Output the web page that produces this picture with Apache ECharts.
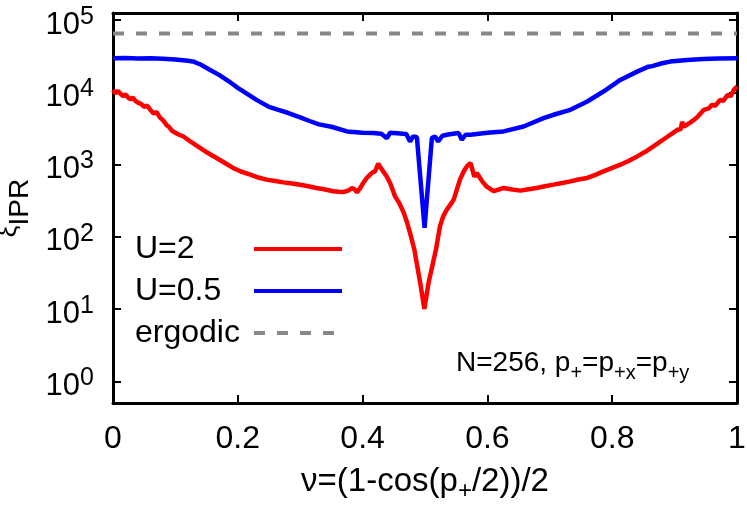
<!DOCTYPE html>
<html>
<head>
<meta charset="utf-8">
<script src="https://cdn.jsdelivr.net/npm/echarts@6/dist/echarts.min.js"></script>
<style>
  html, body { margin: 0; padding: 0; background: #fff; }
  #chart { width: 747px; height: 507px; }
</style>
</head>
<body>
<div id="chart"></div>
<script>
// nu = (1 - cos(p+/2)) / 2 ; xi = IPR length
const nuU2 = [0, 0.004, 0.008, 0.012, 0.016, 0.02, 0.024, 0.028, 0.032, 0.036, 0.04, 0.045, 0.05, 0.055, 0.06, 0.065, 0.07, 0.075, 0.08, 0.083, 0.086, 0.09, 0.095, 0.105, 0.113, 0.125, 0.14, 0.15, 0.166, 0.18, 0.193, 0.205, 0.22, 0.233, 0.246, 0.26, 0.273, 0.287, 0.3, 0.313, 0.326, 0.34, 0.353, 0.362, 0.37, 0.378, 0.383, 0.387, 0.391, 0.396, 0.401, 0.406, 0.412, 0.416, 0.42, 0.425, 0.429, 0.433, 0.438, 0.444, 0.448, 0.452, 0.459, 0.466, 0.471, 0.476, 0.483, 0.4923, 0.499, 0.5057, 0.5175, 0.524, 0.529, 0.535, 0.541, 0.546, 0.551, 0.556, 0.562, 0.567, 0.573, 0.579, 0.583, 0.586, 0.592, 0.599, 0.61, 0.618, 0.626, 0.64, 0.653, 0.666, 0.679, 0.692, 0.706, 0.72, 0.733, 0.746, 0.76, 0.773, 0.786, 0.8, 0.813, 0.826, 0.84, 0.853, 0.866, 0.88, 0.893, 0.905, 0.91, 0.912, 0.915, 0.925, 0.935, 0.947, 0.955, 0.96, 0.965, 0.973, 0.978, 0.985, 0.99, 0.995, 1];
const xiU2 = [10800, 9700, 10400, 9500, 8900, 9300, 8500, 8000, 8400, 7600, 7200, 6900, 6300, 6500, 5700, 5100, 5300, 4500, 4100, 4300, 3500, 3300, 2900, 2600, 2440, 2050, 1690, 1480, 1230, 1040, 891, 800, 724, 660, 617, 590, 566, 545, 525, 500, 473, 450, 427, 420, 417, 440, 471, 455, 412, 470, 555, 640, 723, 780, 804, 1026, 900, 804, 700, 555, 450, 362, 290, 214, 160, 113, 66, 23, 10, 23, 66, 140, 190, 238, 280, 327, 450, 617, 800, 941, 1050, 678, 760, 723, 580, 493, 427, 450, 473, 450, 435, 455, 473, 500, 526, 555, 584, 620, 651, 720, 804, 900, 993, 1120, 1294, 1500, 1780, 2150, 2580, 3030, 3100, 3900, 3360, 3800, 4400, 5710, 6000, 6700, 6500, 7850, 7600, 9200, 8800, 10800, 12000];

const nuU05 = [0, 0.02, 0.04, 0.06, 0.08, 0.1, 0.12, 0.13, 0.134, 0.137, 0.14, 0.155, 0.17, 0.185, 0.2, 0.215, 0.23, 0.25, 0.265, 0.28, 0.3, 0.315, 0.33, 0.35, 0.375, 0.4, 0.417, 0.43, 0.439, 0.444, 0.455, 0.465, 0.47, 0.476, 0.481, 0.487, 0.4993, 0.511, 0.516, 0.521, 0.528, 0.535, 0.545, 0.554, 0.559, 0.565, 0.573, 0.6, 0.626, 0.658, 0.69, 0.71, 0.733, 0.76, 0.786, 0.813, 0.84, 0.858, 0.861, 0.864, 0.88, 0.893, 0.92, 0.946, 0.97, 1];
const xiU05 = [29600, 29800, 29300, 29500, 29000, 28400, 27200, 26500, 25400, 26200, 24300, 20500, 17400, 14300, 11500, 9500, 7850, 6280, 5700, 5200, 4490, 4000, 3590, 3330, 2870, 2750, 2720, 2660, 2320, 2750, 2710, 2660, 2640, 2085, 2450, 2380, 133, 2320, 2450, 2085, 2500, 2580, 2660, 2720, 2200, 2580, 2580, 2750, 2870, 3360, 4390, 5000, 5710, 7440, 10230, 14800, 19300, 22600, 24000, 23000, 25200, 26550, 28000, 28900, 29300, 29600];

const nuErgodic = [0, 1];
const xiErgodic = [65000, 65000];

const xTickLabels = ['0', '0.2', '0.4', '0.6', '0.8', '1'];
const yTickExponents = [0, 1, 2, 3, 4, 5];

const FONT = "'Liberation Sans', Arial, sans-serif";
const zip = (xs, ys) => xs.map((x, i) => [x, ys[i]]);

const chart = echarts.init(document.getElementById('chart'), null, { renderer: 'canvas' });

const frameLine = { show: true, onZero: false, lineStyle: { color: '#000', width: 3 } };
const frameTick = { show: true, inside: true, length: 8, lineStyle: { color: '#000', width: 2 } };

const option = {
  animation: false,
  backgroundColor: '#fff',
  grid: { left: 113, right: 10, top: 13, bottom: 104, outerBoundsMode: 'none', containLabel: false },
  legend: {
    orient: 'vertical',
    left: 135,
    top: 233,
    padding: 0,
    itemGap: 10,
    align: 'right',
    itemWidth: 88,
    itemHeight: 20,
    selectedMode: false,
    itemStyle: { opacity: 0 },
    lineStyle: { width: 4 },
    data: ['U=2', 'U=0.5', 'ergodic'],
    formatter: (name) => '{t|' + name + '}',
    textStyle: {
      rich: { t: { width: 114, align: 'left', fontSize: 32, lineHeight: 30, fontFamily: FONT, color: '#000' } },
    },
  },
  xAxis: [
    {
      type: 'value', min: 0, max: 1, interval: 0.2, position: 'bottom',
      name: '{m|ν=(1-cos(p}{s|+}{m|/2))/2}',
      nameLocation: 'middle',
      nameGap: 62,
      nameTextStyle: {
        rich: {
          m: { fontSize: 33, lineHeight: 32, verticalAlign: 'top', fontFamily: FONT, color: '#000' },
          s: { fontSize: 24, lineHeight: 24, padding: [14, 0, 0, 0], verticalAlign: 'top', fontFamily: FONT, color: '#000' },
        },
      },
      axisLine: frameLine,
      axisTick: frameTick,
      axisLabel: {
        margin: 20, fontSize: 32, fontFamily: FONT, color: '#000',
        formatter: (v) => xTickLabels[Math.round(v / 0.2)] || '',
      },
      splitLine: { show: false },
    },
    {
      type: 'value', min: 0, max: 1, interval: 0.2, position: 'top',
      axisLine: frameLine, axisTick: frameTick,
      axisLabel: { show: false }, splitLine: { show: false },
    },
  ],
  yAxis: [
    {
      type: 'log', logBase: 10, min: 0.5, max: 125000, position: 'left',
      name: '{g|ξ}{s|IPR}',
      nameLocation: 'middle',
      nameRotate: 90,
      nameGap: 66,
      nameTextStyle: {
        rich: {
          g: { fontSize: 26, lineHeight: 26, verticalAlign: 'top', fontFamily: FONT, color: '#000' },
          s: { fontSize: 28, lineHeight: 28, padding: [11, 0, 0, 0], verticalAlign: 'top', fontFamily: FONT, color: '#000' },
        },
      },
      axisLine: frameLine,
      axisTick: frameTick,
      axisLabel: {
        margin: 19,
        formatter: (v) => {
          const e = Math.log10(v);
          const k = Math.round(e);
          if (Math.abs(e - k) > 1e-6 || !yTickExponents.includes(k)) return '';
          return '{b|10}{s|' + k + '}';
        },
        rich: {
          b: { fontSize: 31, lineHeight: 31, padding: [5, 0, 0, 0], verticalAlign: 'top', fontFamily: FONT, color: '#000' },
          s: { fontSize: 25, lineHeight: 25, verticalAlign: 'top', fontFamily: FONT, color: '#000' },
        },
      },
      splitLine: { show: false },
    },
    {
      type: 'log', logBase: 10, min: 0.5, max: 125000, position: 'right',
      axisLine: frameLine, axisTick: frameTick,
      axisLabel: { show: false }, splitLine: { show: false },
    },
  ],
  series: [
    {
      name: 'U=2', type: 'line', symbol: 'none', xAxisIndex: 0, yAxisIndex: 0,
      lineStyle: { color: '#ff0000', width: 4.5 }, itemStyle: { color: '#ff0000' },
      data: zip(nuU2, xiU2), z: 3,
    },
    {
      name: 'U=0.5', type: 'line', symbol: 'none', xAxisIndex: 0, yAxisIndex: 0,
      lineStyle: { color: '#0000ff', width: 4.5 }, itemStyle: { color: '#0000ff' },
      data: zip(nuU05, xiU05), z: 4,
    },
    {
      name: 'ergodic', type: 'line', symbol: 'none', xAxisIndex: 0, yAxisIndex: 0,
      lineStyle: { color: '#888888', width: 4, type: [11, 12] }, itemStyle: { color: '#888888' },
      data: zip(nuErgodic, xiErgodic), z: 2,
    },
  ],
  graphic: [
    {
      type: 'text', left: 456, top: 349, z: 100,
      style: {
        text: '{m|N=256, p}{s|+}{m|=p}{s|+x}{m|=p}{s|+y}',
        rich: {
          m: { fontSize: 28, lineHeight: 28, verticalAlign: 'top', fontFamily: FONT, fill: '#000' },
          s: { fontSize: 20, lineHeight: 20, padding: [14, 0, 0, 0], verticalAlign: 'top', fontFamily: FONT, fill: '#000' },
        },
      },
    },
  ],
};

chart.setOption(option);
</script>
</body>
</html>
